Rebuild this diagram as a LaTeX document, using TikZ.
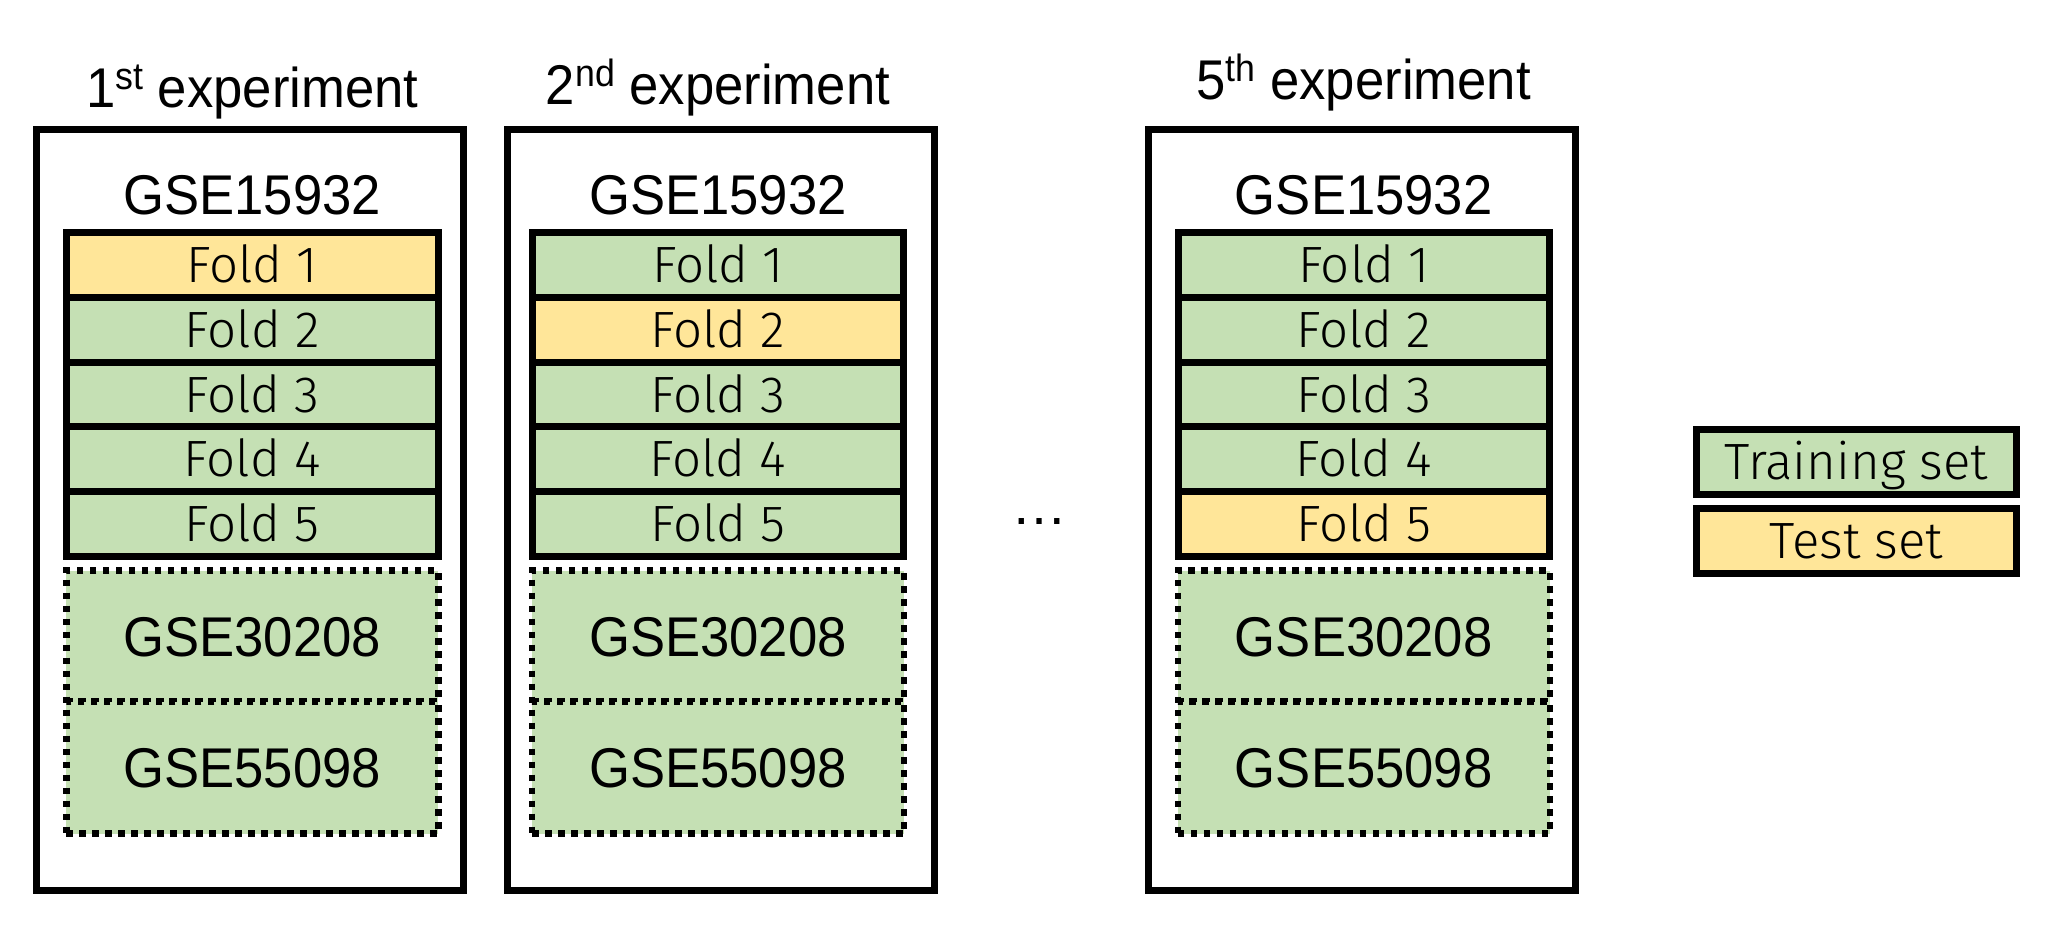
\documentclass[tikz,border=0pt]{standalone}
\usepackage{fontspec}
\setmainfont{Liberation Sans}
\newfontfamily\arialn{Liberation Sans}[FakeStretch=0.94]
\newfontfamily\foldfont{Fira Sans Light}
\definecolor{trainc}{HTML}{C5E0B4}
\definecolor{testc}{HTML}{FFE699}
\newcommand\supx[1]{\raisebox{18pt}{\fontsize{38}{40}\selectfont #1}}
\tikzset{
  bigtext/.style={font=\arialn\fontsize{56}{60}\selectfont, inner sep=0pt},
  outerbox/.style={draw, line width=7pt, minimum width=427pt, minimum height=760.5pt, inner sep=0pt},
  foldbox/.style={draw, line width=7pt, minimum width=371.5pt, minimum height=64.8pt, inner sep=0pt,
     font=\foldfont\fontsize{51}{51}\selectfont, text height=35pt, text depth=0pt},
  trainfill/.style={fill=trainc},
  testfill/.style={fill=testc},
  dotbox/.style={draw, fill=trainc, line width=6.5pt, dash pattern=on 6.5pt off 6.5pt,
     minimum width=372pt, inner sep=0pt, font=\arialn\fontsize{56}{60}\selectfont,
     text height=40pt, text depth=0pt},
  legbox/.style={draw, line width=7pt, minimum width=320pt, minimum height=65pt, inner sep=0pt,
     font=\foldfont\fontsize{51}{51}\selectfont, text height=35pt, text depth=0pt}
}
\begin{document}
\begin{tikzpicture}[x=1pt, y=-1pt]
\useasboundingbox[fill=white] (0,0) rectangle (2067,944);
\foreach \e/\bx/\fx/\tb/\ord/\tst in {1/250/252.25/108/st/1, 2/720.5/718/105/nd/2, 5/1362/1363.75/100/th/5}{
  \node[outerbox] (box\e) at (\bx, 509.75) {};
  \node[bigtext, anchor=base] (title\e) at (\fx, \tb) {\e\supx{\ord} experiment};
  \node[bigtext, anchor=base] (gse\e) at (\fx, 215) {GSE15932};
  \foreach \i in {1,...,5}{
    \ifnum\i=\tst
      \node[foldbox, testfill] (f\e-\i) at (\fx, {232.5+64.8*(\i-0.5)}) {Fold \i};
    \else
      \node[foldbox, trainfill] (f\e-\i) at (\fx, {232.5+64.8*(\i-0.5)}) {Fold \i};
    \fi
  }
  \node[dotbox, minimum height=131pt] (ga\e) at (\fx, 636) {GSE30208};
  \node[dotbox, minimum height=132pt] (gb\e) at (\fx, 767.5) {GSE55098};
}
\node[font=\fontsize{56}{60}\selectfont, inner sep=0pt, anchor=base] (dots) at (1039.5, 524.5) {…};
\node[legbox, trainfill] (legtrain) at (1856.5, 462.25) {Training set};
\node[legbox, testfill] (legtest) at (1856.5, 541) {Test set};
\end{tikzpicture}
\end{document}
